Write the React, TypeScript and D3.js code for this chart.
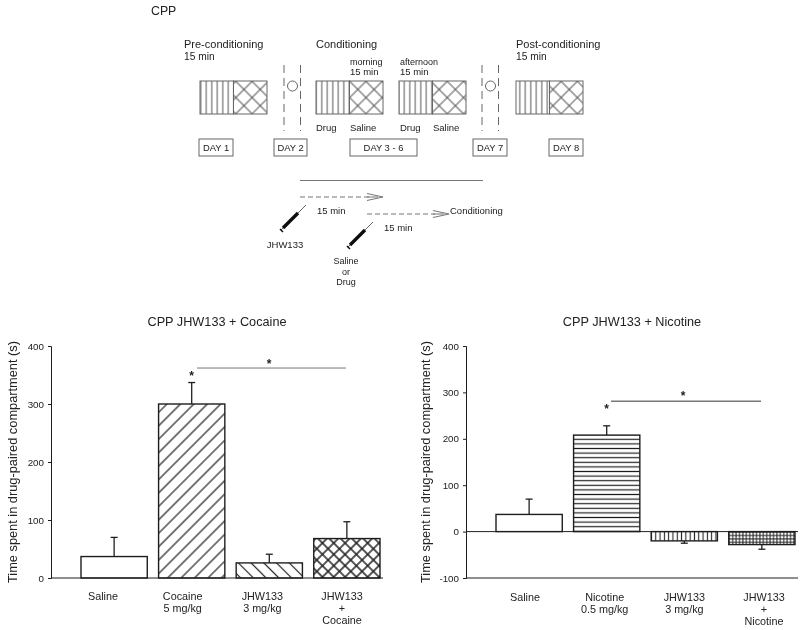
import React, { useEffect, useRef } from 'react';
import * as d3 from 'd3';

// Chart data
const cocaineCategories = ['Saline', 'Cocaine 5 mg/kg', 'JHW133 3 mg/kg', 'JHW133 + Cocaine'];
const cocaineMeans = [37, 300, 26, 68];
const cocaineTops = [70, 337, 41, 97];
const cocaineLabels = [['Saline'], ['Cocaine', '5 mg/kg'], ['JHW133', '3 mg/kg'], ['JHW133', '+', 'Cocaine']];

const nicotineCategories = ['Saline', 'Nicotine 0.5 mg/kg', 'JHW133 3 mg/kg', 'JHW133 + Nicotine'];
const nicotineMeans = [37, 208, -20, -28];
const nicotineTops = [70, 228, -25, -38];
const nicotineLabels = [['Saline'], ['Nicotine', '0.5 mg/kg'], ['JHW133', '3 mg/kg'], ['JHW133', '+', 'Nicotine']];

const cocaineTicks = [0, 100, 200, 300, 400];
const nicotineTicks = [-100, 0, 100, 200, 300, 400];

const dayLabels = ['DAY 1', 'DAY 2', 'DAY 3 - 6', 'DAY 7', 'DAY 8'];

const FONT = '"Liberation Sans", Arial, sans-serif';
const INK = '#222';
const LINE = '#1f1f1f';

function Hatch({ id, angle, size, width = 1, cross = false, color = LINE }: any) {
  return (
    <pattern id={id} width={size} height={size} patternUnits="userSpaceOnUse" patternTransform={`rotate(${angle})`}>
      <rect width={size} height={size} fill="#fff" />
      <line x1={size / 2} x2={size / 2} y1={0} y2={size} stroke={color} strokeWidth={width} />
      {cross && <line y1={size / 2} y2={size / 2} x1={0} x2={size} stroke={color} strokeWidth={width} />}
    </pattern>
  );
}

function Panel(props: any) {
  const { title, titleX, yLabelX, categories, means, tops, labels, ticks, domain, fills, plotLeft, barRange, labelRange, axisEnd, sig, starTop, labelY } = props;
  const axisRef = useRef<SVGGElement>(null);

  const y = d3.scaleLinear().domain(domain).range([578, 346]);
  const x = d3.scaleBand().domain(categories).range(barRange).paddingInner(0.146).paddingOuter(0);
  const labelX = d3.scalePoint().domain(categories).range(labelRange);

  useEffect(() => {
    // plain hyphen on the negative tick, as in the figure
    const axis = d3.axisLeft(y).tickValues(ticks).tickSize(3).tickPadding(4).tickFormat((d: any) => String(d));
    const g = d3.select(axisRef.current!);
    g.call(axis as any);
    g.selectAll('text').attr('font-family', FONT).attr('font-size', 9.8).attr('fill', INK);
    g.selectAll('line,path').attr('stroke', LINE).attr('stroke-width', 1);
  }, []);

  return (
    <g fontFamily={FONT} fill={INK}>
      <text x={titleX} y={326} textAnchor="middle" fontSize={12.7}>{title}</text>
      <text transform={`translate(${yLabelX},462) rotate(-90)`} textAnchor="middle" fontSize={12.8}>
        Time spent in drug-paired compartment (s)
      </text>
      {categories.map((c: string, i: number) => {
        const top = y(Math.max(means[i], 0));
        const bottom = y(Math.min(means[i], 0));
        const cx = x(c)! + x.bandwidth() / 2;
        return (
          <g key={c}>
            <line x1={cx} x2={cx} y1={y(means[i])} y2={y(tops[i])} stroke={LINE} strokeWidth={1.3} />
            <line x1={cx - 3.5} x2={cx + 3.5} y1={y(tops[i])} y2={y(tops[i])} stroke={LINE} strokeWidth={1.3} />
            <rect x={x(c)} y={top} width={x.bandwidth()} height={bottom - top} fill={fills[i]} stroke={LINE} strokeWidth={1.4} />
          </g>
        );
      })}
      <line x1={plotLeft} x2={axisEnd} y1={y(0)} y2={y(0)} stroke={LINE} strokeWidth={1} />
      {domain[0] < 0 && <line x1={plotLeft} x2={axisEnd} y1={y(domain[0])} y2={y(domain[0])} stroke={LINE} strokeWidth={1} />}
      <g ref={axisRef} transform={`translate(${plotLeft},0)`} />
      {categories.map((c: string, i: number) =>
        labels[i].map((t: string, j: number) => (
          <text key={t + j} x={labelX(c)} y={labelY + j * 12} textAnchor="middle" fontSize={10.8}>{t}</text>
        ))
      )}
      {/* significance bracket */}
      <line x1={sig.x1} x2={sig.x2} y1={y(sig.value)} y2={y(sig.value)} stroke="#777" strokeWidth={sig.width} />
      <text x={sig.starX} y={y(sig.value) + sig.starDy} textAnchor="middle" fontSize={12} fontWeight="bold">*</text>
      <text x={x(categories[1])! + x.bandwidth() / 2} y={y(starTop)} textAnchor="middle" fontSize={12} fontWeight="bold">*</text>
    </g>
  );
}

// Schematic: chamber with a vertical striped half and a cross-hatched half
function Chamber({ x }: { x: number }) {
  return (
    <g stroke="#666" strokeWidth={1}>
      <rect x={x} y={81} width={33.5} height={33} fill="url(#chamberStripes)" />
      <rect x={x + 33.5} y={81} width={33.5} height={33} fill="url(#chamberCross)" />
    </g>
  );
}

function RestDay({ x }: { x: number }) {
  return (
    <g stroke="#666" fill="none">
      <line x1={x} x2={x} y1={65} y2={131} strokeDasharray="8 5" />
      <line x1={x + 16.5} x2={x + 16.5} y1={65} y2={131} strokeDasharray="8 5" />
      <circle cx={x + 8.5} cy={86} r={5} />
    </g>
  );
}

function DayBox({ x, w, label }: { x: number; w: number; label: string }) {
  return (
    <g>
      <rect x={x} y={139} width={w} height={17} fill="#fff" stroke="#666" />
      <text x={x + w / 2} y={151} textAnchor="middle" fontSize={9.4}>{label}</text>
    </g>
  );
}

function DashedArrow({ x, x2, y }: { x: number; x2: number; y: number }) {
  return (
    <g fill="none" stroke="#777">
      <line x1={x} x2={x2 - 14} y1={y} y2={y} strokeDasharray="5 3" />
      <path d={d3.line()([[x2 - 16, y - 3.5], [x2, y], [x2 - 16, y + 3.5]])!} />
      <line x1={x2 - 16} x2={x2 - 5} y1={y} y2={y} />
    </g>
  );
}

function Syringe({ x, y }: { x: number; y: number }) {
  return (
    <g>
      <line x1={x} y1={y} x2={x + 25} y2={y - 25} stroke="#666" />
      <line x1={x + 2} y1={y - 2} x2={x + 17} y2={y - 17} stroke="#111" strokeWidth={3.4} />
      <line x1={x - 1} y1={y - 1} x2={x + 2} y2={y + 2} stroke="#111" strokeWidth={1.5} />
    </g>
  );
}

function Diagram() {
  return (
    <g fontFamily={FONT} fill={INK}>
      <text x={151} y={14.5} fontSize={12.3}>CPP</text>
      <text x={184} y={48} fontSize={11}>Pre-conditioning</text>
      <text x={184} y={60} fontSize={10.2}>15 min</text>
      <text x={316} y={48} fontSize={11}>Conditioning</text>
      <text x={350} y={65} fontSize={9}>morning</text>
      <text x={350} y={75} fontSize={9.5}>15 min</text>
      <text x={400} y={65} fontSize={9}>afternoon</text>
      <text x={400} y={75} fontSize={9.5}>15 min</text>
      <text x={516} y={48} fontSize={11}>Post-conditioning</text>
      <text x={516} y={60} fontSize={10.2}>15 min</text>

      <Chamber x={200} />
      <Chamber x={316} />
      <Chamber x={399} />
      <Chamber x={516} />
      <RestDay x={284} />
      <RestDay x={482} />

      {[[316, 'Drug'], [350, 'Saline'], [400, 'Drug'], [433, 'Saline']].map(([x, t]) => (
        <text key={x as number} x={x as number} y={131} fontSize={9.5}>{t}</text>
      ))}

      <DayBox x={199} w={34} label={dayLabels[0]} />
      <DayBox x={274} w={33} label={dayLabels[1]} />
      <DayBox x={350} w={67} label={dayLabels[2]} />
      <DayBox x={473} w={34} label={dayLabels[3]} />
      <DayBox x={549} w={34} label={dayLabels[4]} />

      <line x1={300} x2={483} y1={180.5} y2={180.5} stroke="#777" />
      <DashedArrow x={300} x2={383} y={197} />
      <DashedArrow x={367} x2={449} y={214} />
      <text x={450} y={214} fontSize={9.5}>Conditioning</text>
      <text x={317} y={214} fontSize={9.5}>15 min</text>
      <text x={384} y={231} fontSize={9.5}>15 min</text>
      <Syringe x={281} y={230} />
      <Syringe x={348} y={247} />
      <text x={285} y={247.5} textAnchor="middle" fontSize={9.5}>JHW133</text>
      <text x={346} y={264} textAnchor="middle" fontSize={9}>Saline</text>
      <text x={346} y={274.5} textAnchor="middle" fontSize={9}>or</text>
      <text x={346} y={285} textAnchor="middle" fontSize={9}>Drug</text>
    </g>
  );
}

export default function App() {
  return (
    <svg width={800} height={630} style={{ position: 'absolute', left: 0, top: 0, background: '#fff' }}>
      <defs>
        <Hatch id="chamberStripes" angle={0} size={5.5} color="#555" />
        <Hatch id="chamberCross" angle={45} size={11.5} cross color="#555" />
        <Hatch id="diagUp" angle={45} size={9.5} width={1.2} />
        <Hatch id="diagDown" angle={-45} size={9} width={1.2} />
        <Hatch id="crossBar" angle={45} size={8} width={1.5} cross />
        <Hatch id="horizontal" angle={90} size={4.6} width={1.2} />
        <Hatch id="vertical" angle={0} size={4.3} width={1.1} />
        <Hatch id="gridBar" angle={0} size={3.4} width={1} cross />
        {/* the reference is a soft scan */}
        <filter id="soft" x="0" y="0" width="100%" height="100%">
          <feGaussianBlur stdDeviation={0.35} />
        </filter>
      </defs>
      <g filter="url(#soft)">
        <rect width={800} height={630} fill="#fff" />
        <Diagram />
        <Panel
          title="CPP JHW133 + Cocaine"
          titleX={217}
          yLabelX={17}
          categories={cocaineCategories}
          means={cocaineMeans}
          tops={cocaineTops}
          labels={cocaineLabels}
          ticks={cocaineTicks}
          domain={[0, 400]}
          fills={['#fff', 'url(#diagUp)', 'url(#diagDown)', 'url(#crossBar)']}
          plotLeft={51}
          barRange={[81, 380]}
          labelRange={[103, 342]}
          axisEnd={383}
          sig={{ x1: 197, x2: 346, value: 362, width: 1, starX: 269, starDy: 0 }}
          starTop={341}
          labelY={600}
        />
        <Panel
          title="CPP JHW133 + Nicotine"
          titleX={632}
          yLabelX={429.5}
          categories={nicotineCategories}
          means={nicotineMeans}
          tops={nicotineTops}
          labels={nicotineLabels}
          ticks={nicotineTicks}
          domain={[-100, 400]}
          fills={['#fff', 'url(#horizontal)', 'url(#vertical)', 'url(#gridBar)']}
          plotLeft={466}
          barRange={[496, 795]}
          labelRange={[525, 764]}
          axisEnd={798}
          sig={{ x1: 611, x2: 761, value: 281, width: 1.5, starX: 683, starDy: -1 }}
          starTop={255}
          labelY={601}
        />
      </g>
    </svg>
  );
}
